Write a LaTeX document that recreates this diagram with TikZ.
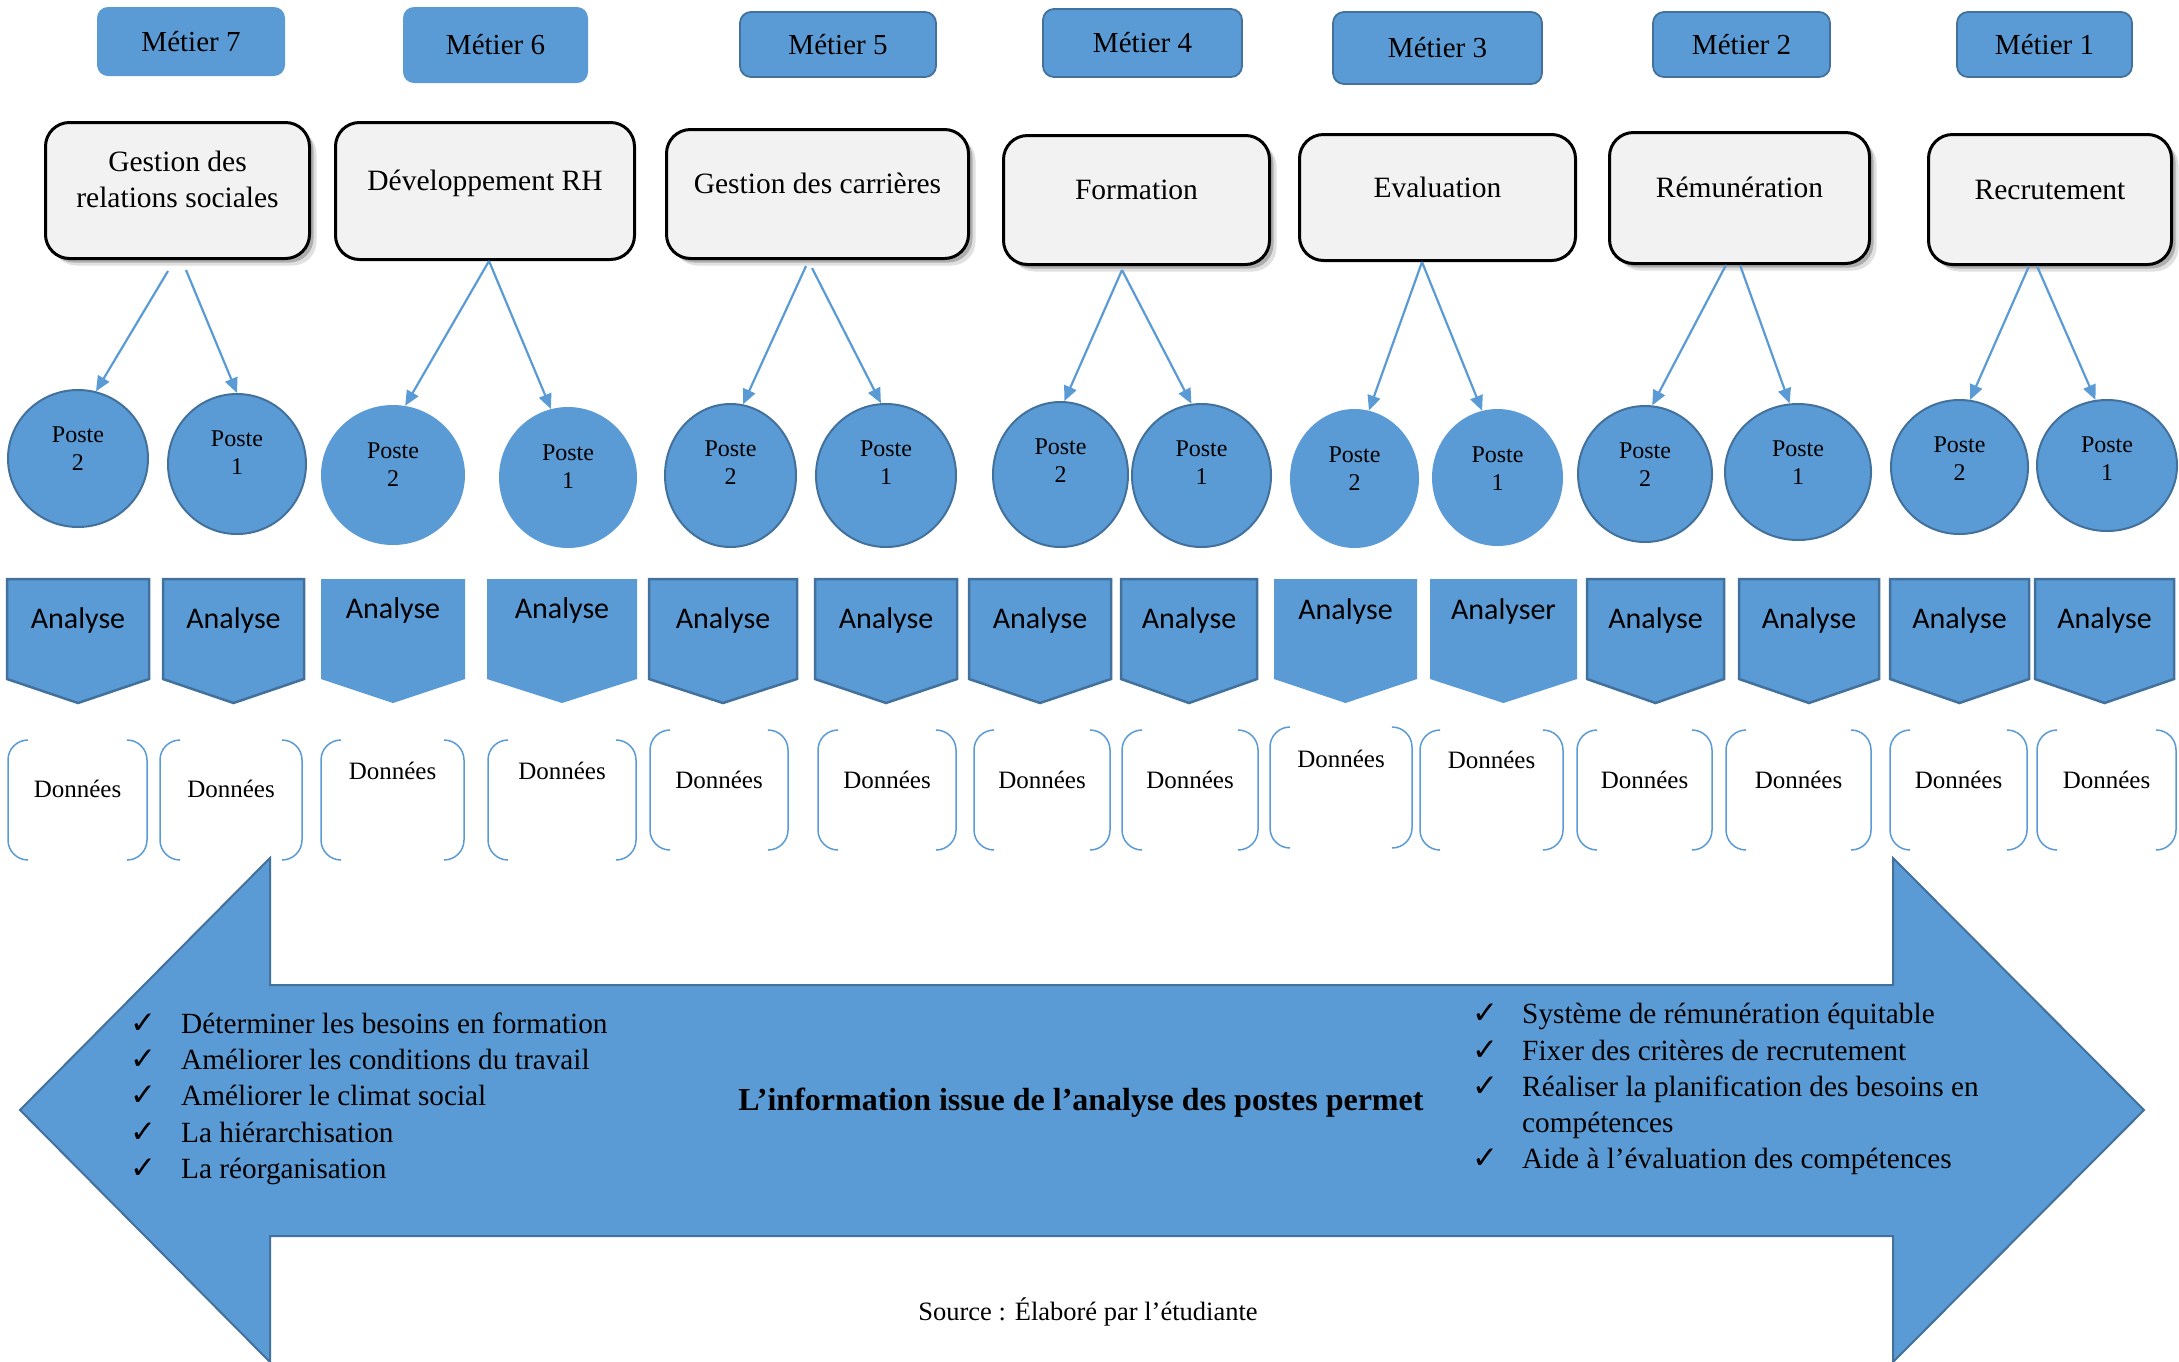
\documentclass[tikz,border=0pt]{standalone}
\usepackage{fontspec}
\setmainfont{Liberation Serif}
\newfontfamily\anfont{Carlito}
\newfontfamily\symfont{DejaVu Sans}
\usetikzlibrary{shapes.geometric,arrows.meta,calc,shadows}

\definecolor{hrblue}{RGB}{91,155,213}
\definecolor{hredge}{RGB}{65,113,156}
\definecolor{hrgrey}{RGB}{242,242,242}

\begin{document}
\begin{tikzpicture}[x=1pt,y=-1pt,
  metier/.style={draw=hredge, line width=1.8pt, fill=hrblue, rounded corners=11pt,
    inner sep=0pt, font=\fontsize{29}{34}\selectfont},
  metierplain/.style={metier, draw=none},
  gestplain/.style={draw=black, line width=3pt, fill=hrgrey, rounded corners=24pt, inner sep=0pt},
  gestbox/.style={gestplain,
    drop shadow={shadow xshift=7pt, shadow yshift=-7pt, opacity=.12, fill=black},
    drop shadow={shadow xshift=4pt, shadow yshift=-4pt, opacity=.22, fill=black}},
  gesttext/.style={font=\fontsize{29.5}{36}\selectfont, align=center, inner sep=0pt},
  postb/.style={ellipse, draw=hredge, line width=2pt, fill=hrblue, inner sep=0pt},
  postn/.style={ellipse, fill=hrblue, inner sep=0pt},
  postetext/.style={font=\fontsize{24}{28}\selectfont, align=center, inner sep=0pt},
  link/.style={draw=hrblue, line width=2.2pt, -{Triangle[length=15pt,width=13pt]}},
  pentb/.style={fill=hrblue, draw=hredge, line width=2.5pt, line join=miter},
  pentn/.style={fill=hrblue},
  antext/.style={font={\anfont\fontsize{30}{36}\selectfont}, inner sep=0pt},
  brk/.style={draw=hrblue, line width=1.5pt, rounded corners=20pt},
  dtext/.style={font=\fontsize{25}{30}\selectfont, inner sep=0pt},
  bigarrow/.style={fill=hrblue, draw=hredge, line width=2pt, line join=miter},
  chk/.style={font={\symfont\fontsize{31}{34}\selectfont}, inner sep=0pt},
  lst/.style={font=\fontsize{29.3}{34}\selectfont, inner sep=0pt}
]
\useasboundingbox (0,0) rectangle (2179,1361);
\fill[white] (0,0) rectangle (2179,1361);

% double-headed block arrow
\path[bigarrow] (20,1110) -- (270,858) -- (270,985) -- (1893,985) -- (1893,858)
  -- (2144,1110) -- (1893,1362) -- (1893,1236) -- (270,1236) -- (270,1362) -- cycle;

% job boxes
\foreach \n/\cx/\cy/\w/\h/\st/\k in {
  m7/191/41.5/188/69/metierplain/7,
  m6/495.5/45/185/76/metierplain/6,
  m5/838/44.5/196/65/metier/5,
  m4/1142.5/43/199/68/metier/4,
  m3/1437.5/48/209/72/metier/3,
  m2/1741.5/44.5/177/65/metier/2,
  m1/2044.5/44.5/175/65/metier/1}
  \node[\st, minimum width=\w pt, minimum height=\h pt] (\n) at (\cx,\cy) {Métier \k};

% HR function boxes
\foreach \n/\cx/\cy/\w/\h/\st in {
  g7/177.5/190.5/264/136/gestbox,
  g6/485/191/299/137/gestplain,
  g5/817.5/194/302/129/gestbox,
  g4/1136.5/200/266/129/gestbox,
  g3/1437.5/197.5/276/126/gestplain,
  g2/1739.5/198/260/131/gestbox,
  g1/2050/199.5/243/130/gestbox}
  \node[\st, minimum width=\w pt, minimum height=\h pt] (\n) at (\cx,\cy) {};

\node[gesttext] (g7t) at (177.5,179) {Gestion des\\relations sociales};
\node[gesttext, anchor=base] (g6t) at (485,190) {Développement RH};
\node[gesttext, anchor=base] (g5t) at (817.5,193) {Gestion des carrières};
\node[gesttext, anchor=base] (g4t) at (1136.5,199) {Formation};
\node[gesttext, anchor=base] (g3t) at (1437.5,197) {Evaluation};
\node[gesttext, anchor=base] (g2t) at (1739.5,197) {Rémunération};
\node[gesttext, anchor=base] (g1t) at (2050,199) {Recrutement};

% job positions
\foreach \n/\cx/\cy/\w/\h/\st/\k in {
  c72/78/458.5/140/137/postb/2,
  c71/237/464/138/140/postb/1,
  c62/393/475/144/140/postn/2,
  c61/568/477.5/138/141/postn/1,
  c52/730.5/475.5/131/143/postb/2,
  c51/886/475.5/140/143/postb/1,
  c42/1060.5/474.5/135/145/postb/2,
  c41/1201.5/475.5/139/143/postb/1,
  c32/1354.5/478.5/129/139/postn/2,
  c31/1497.5/477.5/131/137/postn/1,
  c22/1645/474/134/136/postb/2,
  c21/1798/472/146/136/postb/1,
  c12/1959.5/467/137/134/postb/2,
  c11/2107/465.5/140/131/postb/1}
{
  \node[\st, minimum width=\w pt, minimum height=\h pt] (\n) at (\cx,\cy) {};
  \node[postetext, anchor=north] (t\n) at ($(\n.north)+(0,38)$) {Poste\\\k};
}

% links from each HR function to its two positions
\draw[link] ($(g7.south)+(-9.5,11)$) -- (c72.75);
\draw[link] ($(g7.south)+(8.5,10)$) -- (c71.north);
\draw[link] ($(g6.south)+(4,0)$) -- (c62.80);
\draw[link] ($(g6.south)+(4,0)$) -- (c61.104);
\draw[link] ($(g5.south)+(-11.5,6)$) -- (c52.80);
\draw[link] ($(g5.south)+(-5.5,8)$) -- (c51.94);
\draw[link] ($(g4.south)+(-14.5,4)$) -- (c42.87);
\draw[link] ($(g4.south)+(-14.5,4)$) -- (c41.98);
\draw[link] ($(g3.south)+(-15.5,0)$) -- (c32.78);
\draw[link] ($(g3.south)+(-15.5,0)$) -- (c31.103);
\draw[link] ($(g2.south)+(-13.5,0)$) -- (c22.84);
\draw[link] ($(g2.south)+(0.5,0)$) -- (c21.97);
\draw[link] ($(g1.south)+(-21,0)$) -- (c12.81);
\draw[link] ($(g1.south)+(-13,0)$) -- (c11.100);

% analysis chevrons
\foreach \i/\xl/\xr/\st/\lab/\bl in {
  1/7/149/pentb/Analyse/628,
  2/163/304/pentb/Analyse/628,
  3/321/465/pentn/Analyse/618,
  4/487/637/pentn/Analyse/618,
  5/649/797/pentb/Analyse/628,
  6/815/957/pentb/Analyse/628,
  7/969/1111/pentb/Analyse/628,
  8/1121/1257/pentb/Analyse/628,
  9/1274/1417/pentn/Analyse/619,
  10/1430/1577/pentn/Analyser/619,
  11/1587/1724/pentb/Analyse/628,
  12/1739/1879/pentb/Analyse/628,
  13/1890/2029/pentb/Analyse/628,
  14/2035/2174/pentb/Analyse/628}
{
  \path[\st] (\xl,579) -- (\xr,579) -- (\xr,679) -- ({(\xl+\xr)/2},703) -- (\xl,679) -- cycle;
  \node[antext, anchor=base] (a\i) at ({(\xl+\xr)/2},\bl) {\lab};
}

% data brackets
\foreach \i/\xl/\xr/\yt/\yb/\bl in {
  1/8/147/740/860/797,
  2/160/302/740/860/797,
  3/321/464/740/860/779,
  4/488/636/740/860/779,
  5/650/788/730/850/788,
  6/818/956/730/850/788,
  7/974/1110/730/850/788,
  8/1122/1258/730/850/788,
  9/1270/1412/727/848/767,
  10/1420/1563/730/850/768,
  11/1577/1712/730/850/788,
  12/1726/1871/730/850/788,
  13/1890/2027/730/850/788,
  14/2037/2176/730/850/788}
{
  \draw[brk] (\xl+20,\yt) -- (\xl,\yt) -- (\xl,\yb) -- (\xl+20,\yb);
  \draw[brk] (\xr-20,\yt) -- (\xr,\yt) -- (\xr,\yb) -- (\xr-20,\yb);
  \node[dtext, anchor=base] (d\i) at ({(\xl+\xr)/2},\bl) {Données};
}

% left list
\foreach \i/\yb/\txt in {
  1/1033/Déterminer les besoins en formation,
  2/1069/Améliorer les conditions du travail,
  3/1105/Améliorer le climat social,
  4/1142/La hiérarchisation,
  5/1178/La réorganisation}
{
  \node[chk, anchor=base] (lk\i) at (143,\yb) {✓};
  \node[lst, anchor=base west] (l\i) at (181,\yb) {\txt};
}

% right list
\foreach \i/\yb/\txt in {
  1/1023/Système de rémunération équitable,
  2/1060/Fixer des critères de recrutement,
  3/1096/Réaliser la planification des besoins en,
  5/1168/Aide à l’évaluation des compétences}
{
  \node[chk, anchor=base] (rk\i) at (1485,\yb) {✓};
  \node[lst, anchor=base west] (r\i) at (1522,\yb) {\txt};
}
\node[lst, anchor=base west] (r4) at (1522,1132) {compétences};

% central message and source
\node[font=\fontsize{32}{36}\selectfont\bfseries, inner sep=0pt, anchor=base] (msg)
  at (1081,1110) {L’information issue de l’analyse des postes permet};
\node[font=\fontsize{26.5}{30}\selectfont, inner sep=0pt, anchor=base] (src)
  at (1088,1320) {Source : Élaboré par l’étudiante};
\end{tikzpicture}
\end{document}
